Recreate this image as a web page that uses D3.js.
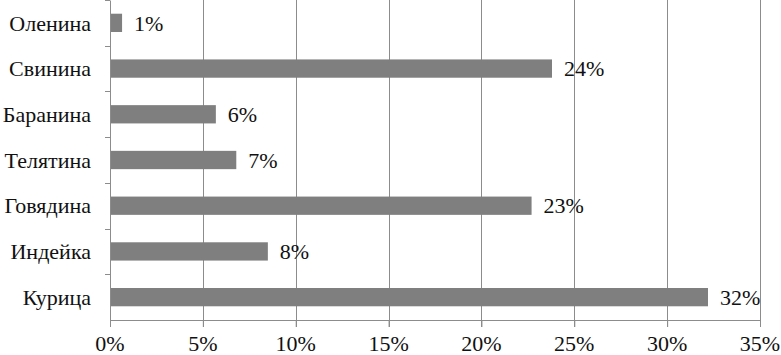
<!DOCTYPE html>
<html>
<head>
<meta charset="utf-8">
<script src="https://cdn.jsdelivr.net/npm/d3@7"></script>
<style>
  @font-face {
    font-family: "RefSerif";
    src: local("Liberation Serif"), local("LiberationSerif"), local("LiberationSerif-Regular"),
         local("Times New Roman"), local("Tinos"), local("FreeSerif");
    font-display: swap;
  }
  body { margin: 0; background: #fff; }
  svg { display: block; }
</style>
</head>
<body>
<script>
// Data
var categories = ["Оленина", "Свинина", "Баранина", "Телятина", "Говядина", "Индейка", "Курица"];
var values = [0.65, 23.8, 5.7, 6.8, 22.7, 8.5, 32.2];
var valueLabels = ["1%", "24%", "6%", "7%", "23%", "8%", "32%"];
var xTicks = [0, 5, 10, 15, 20, 25, 30, 35];

var data = categories.map(function(c, i) {
  return { name: c, value: values[i], label: valueLabels[i] };
});

var FONT = "'Liberation Serif', FreeSerif, RefSerif, 'Times New Roman', Tinos, serif";

var totalW = 781, totalH = 355;
var margin = { top: 0, right: 21, bottom: 35, left: 110 },
    width = totalW - margin.left - margin.right,
    height = totalH - margin.top - margin.bottom;

var root = d3.select("body")
  .append("svg")
    .attr("width", totalW)
    .attr("height", totalH);

var svg = root.append("g")
    .attr("transform", "translate(" + margin.left + "," + margin.top + ")");

var x = d3.scaleLinear()
  .domain([0, 35])
  .range([0, width]);

var y = d3.scaleBand()
  .domain(categories)
  .range([0, height])
  .paddingInner(0.6)
  .paddingOuter(0.3);

// vertical gridlines (running on as small ticks below the axis)
svg.append("g")
  .selectAll("line")
  .data(xTicks.slice(1))
  .enter()
  .append("line")
    .attr("x1", function(d) { return Math.round(x(d)) + 0.5; })
    .attr("x2", function(d) { return Math.round(x(d)) + 0.5; })
    .attr("y1", 0)
    .attr("y2", height + 7)
    .attr("stroke", "#8c8c8c");

// bars
svg.selectAll("rect")
  .data(data)
  .enter()
  .append("rect")
    .attr("x", x(0))
    .attr("y", function(d) { return y(d.name); })
    .attr("width", function(d) { return x(d.value) - x(0); })
    .attr("height", y.bandwidth())
    .attr("fill", "#7f7f7f");

// Y axis line
var yAxis = svg.append("g")
  .call(d3.axisLeft(y).tickSize(0).tickFormat(""));
yAxis.select(".domain").attr("stroke", "#8c8c8c");

// category separator ticks on the y axis
var step = y.step();
svg.append("g")
  .selectAll("line")
  .data(d3.range(categories.length))
  .enter()
  .append("line")
    .attr("x1", -5)
    .attr("x2", 0)
    .attr("y1", function(i) { return Math.round(i * step) + 0.5; })
    .attr("y2", function(i) { return Math.round(i * step) + 0.5; })
    .attr("stroke", "#8c8c8c");

// X axis line and ticks
var xAxis = svg.append("g")
  .attr("transform", "translate(0," + height + ")")
  .call(d3.axisBottom(x).tickValues(xTicks).tickSize(7).tickFormat(""));
xAxis.select(".domain").attr("stroke", "#8c8c8c");
xAxis.selectAll(".tick line").attr("stroke", "#8c8c8c");

// all texts directly on the svg
function styleText(sel) {
  return sel
    .style("font-family", FONT)
    .style("font-size", "22px")
    .style("fill", "#111");
}

// category labels
styleText(root.selectAll(".cat")
  .data(categories)
  .enter()
  .append("text")
    .attr("class", "cat")
    .attr("x", margin.left - 19)
    .attr("y", function(d) { return margin.top + y(d) + y.bandwidth() / 2; })
    .attr("dy", "0.35em")
    .attr("text-anchor", "end")
    .text(function(d) { return d; }));

// value labels
styleText(root.selectAll(".val")
  .data(data)
  .enter()
  .append("text")
    .attr("class", "val")
    .attr("x", function(d) { return margin.left + x(d.value) + 12; })
    .attr("y", function(d) { return margin.top + y(d.name) + y.bandwidth() / 2; })
    .attr("dy", "0.35em")
    .text(function(d) { return d.label; }));

// x tick labels
styleText(root.selectAll(".xt")
  .data(xTicks)
  .enter()
  .append("text")
    .attr("class", "xt")
    .attr("x", function(d) { return margin.left + x(d); })
    .attr("y", margin.top + height + 31)
    .attr("text-anchor", "middle")
    .text(function(d) { return d + "%"; }));
</script>
</body>
</html>
